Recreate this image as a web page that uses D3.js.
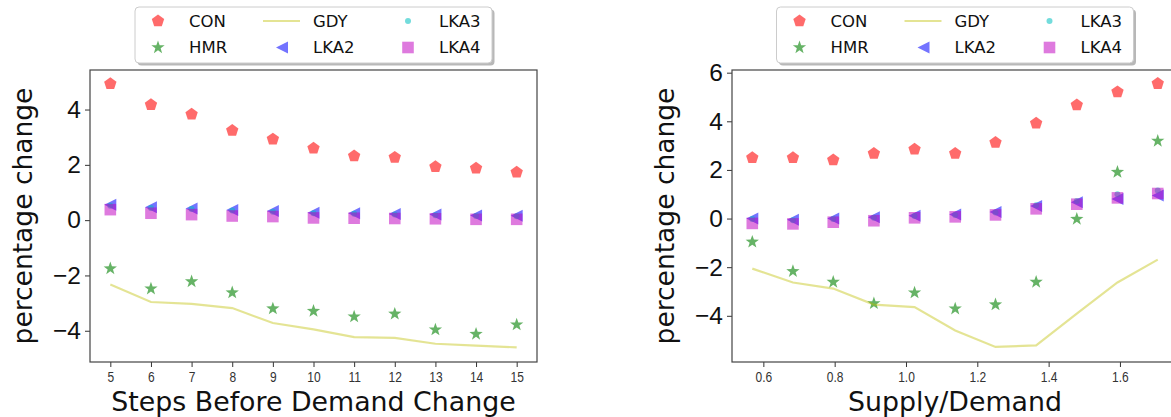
<!DOCTYPE html>
<html>
<head>
<meta charset="utf-8">
<script src="https://cdn.jsdelivr.net/npm/d3@7"></script>
<style>
body { margin: 0; background: #fff; }
svg { display: block; font-family: "DejaVu Sans", sans-serif; }
</style>
</head>
<body>
<svg id="chart" width="1171" height="417"></svg>
<script>
// left panel: steps before demand change
const stepsX = [5, 6, 7, 8, 9, 10, 11, 12, 13, 14, 15];
const stepsCON = [4.93, 4.17, 3.83, 3.24, 2.93, 2.60, 2.32, 2.27, 1.93, 1.88, 1.73];
const stepsHMR = [-1.75, -2.48, -2.22, -2.62, -3.20, -3.29, -3.49, -3.39, -3.96, -4.12, -3.78];
const stepsGDY = [-2.33, -2.96, -3.03, -3.18, -3.72, -3.95, -4.23, -4.26, -4.47, -4.54, -4.60];
const stepsLKA2 = [0.56, 0.47, 0.42, 0.37, 0.33, 0.27, 0.25, 0.22, 0.20, 0.17, 0.16];
const stepsLKA3 = [0.52, 0.44, 0.40, 0.35, 0.30, 0.25, 0.23, 0.20, 0.18, 0.15, 0.14];
const stepsLKA4 = [0.38, 0.25, 0.20, 0.15, 0.13, 0.08, 0.07, 0.06, 0.05, 0.03, 0.03];
const stepsXTicks = [5, 6, 7, 8, 9, 10, 11, 12, 13, 14, 15];
const stepsYTicks = [-4, -2, 0, 2, 4];

// right panel: supply / demand
const ratioX = [0.569, 0.683, 0.796, 0.910, 1.024, 1.138, 1.251, 1.365, 1.479, 1.593, 1.706];
const ratioCON = [2.50, 2.50, 2.41, 2.68, 2.85, 2.68, 3.13, 3.92, 4.67, 5.21, 5.55];
const ratioHMR = [-0.96, -2.17, -2.61, -3.49, -3.05, -3.71, -3.54, -2.61, -0.02, 1.91, 3.19];
const ratioGDY = [-2.06, -2.63, -2.88, -3.54, -3.64, -4.60, -5.28, -5.22, -3.91, -2.63, -1.69];
const ratioLKA2 = [0.00, -0.05, 0.00, 0.05, 0.12, 0.17, 0.27, 0.52, 0.67, 0.80, 0.95];
const ratioLKA3 = [-0.02, -0.07, -0.02, 0.03, 0.10, 0.15, 0.25, 0.55, 0.72, 1.00, 1.15];
const ratioLKA4 = [-0.20, -0.22, -0.15, -0.09, 0.03, 0.07, 0.15, 0.40, 0.59, 0.85, 1.03];
const ratioXTicks = [0.6, 0.8, 1.0, 1.2, 1.4, 1.6];
const ratioYTicks = [-4, -2, 0, 2, 4, 6];

const seriesNames = ["CON", "HMR", "GDY", "LKA2", "LKA3", "LKA4"];

const svg = d3.select('#chart');

// marker shapes (matplotlib-ish)
const polyPath = (pts) => 'M' + pts.map(p => p[0].toFixed(2) + ',' + p[1].toFixed(2)).join('L') + 'Z';
const pentagon = (r) => polyPath(d3.range(5).map(i => {
    const a = -Math.PI / 2 + i * 2 * Math.PI / 5;
    return [r * Math.cos(a), r * Math.sin(a)];
}));
const star = (r) => polyPath(d3.range(10).map(i => {
    const a = -Math.PI / 2 + i * Math.PI / 5;
    const rr = i % 2 ? r * 0.40 : r;
    return [rr * Math.cos(a), rr * Math.sin(a)];
}));
const triLeft = (h) => polyPath([[-h, 0], [h, -h], [h, h]]);
const square = (h) => polyPath([[-h, -h], [h, -h], [h, h], [-h, h]]);
const circle = (r) => `M${r},0A${r},${r} 0 1,1 ${-r},0A${r},${r} 0 1,1 ${r},0Z`;

const styles = {
    CON:  { kind: 'mark', path: pentagon(6.5), color: '#ff0000', alpha: 0.58 },
    HMR:  { kind: 'mark', path: star(7), color: '#008000', alpha: 0.6 },
    GDY:  { kind: 'line', color: '#bfbf00', alpha: 0.42 },
    LKA2: { kind: 'mark', path: triLeft(6), color: '#0000ff', alpha: 0.55 },
    LKA3: { kind: 'mark', path: circle(3), color: '#00bfbf', alpha: 0.55 },
    LKA4: { kind: 'mark', path: square(5.8), color: '#bf00bf', alpha: 0.52 }
};

const drawPanel = (cfg) => {
    const x = d3.scaleLinear().domain(cfg.xDomain).range([cfg.left, cfg.right]);
    const y = d3.scaleLinear().domain(cfg.yDomain).range([cfg.bottom, cfg.top]);
    const g = svg.append('g');

    // data
    cfg.names.forEach((name, k) => {
        const st = styles[name];
        const vals = cfg.values[k];
        const pts = cfg.xs.map((xv, i) => [xv, vals[i]]);
        if (st.kind === 'line') {
            g.append('path')
             .datum(pts)
             .attr('d', d3.line().x(d => x(d[0])).y(d => y(d[1])))
             .attr('fill', 'none')
             .attr('stroke', st.color)
             .attr('stroke-opacity', st.alpha)
             .attr('stroke-width', 2.2);
        } else {
            g.selectAll(null)
             .data(pts)
             .enter()
             .append('path')
             .attr('d', st.path)
             .attr('transform', d => `translate(${x(d[0])},${y(d[1])})`)
             .attr('fill', st.color)
             .attr('fill-opacity', st.alpha);
        }
    });

    // axes
    const xa = g.append('g')
        .attr('transform', `translate(0,${cfg.bottom})`)
        .call(d3.axisBottom(x).tickValues(cfg.xTicks).tickSize(5).tickPadding(4).tickFormat(cfg.xFormat));
    xa.select('.domain').remove();
    xa.selectAll('line').attr('stroke', '#333');
    xa.selectAll('text')
      .attr('fill', '#333')
      .style('font-size', '15px')
      .attr('transform', 'scale(0.8,1)');

    const ya = g.append('g')
        .attr('transform', `translate(${cfg.left},0)`)
        .call(d3.axisLeft(y).tickValues(cfg.yTicks).tickSize(5).tickPadding(4));
    ya.select('.domain').remove();
    ya.selectAll('line').attr('stroke', '#333');
    ya.selectAll('text').attr('fill', '#111').style('font-size', '24.5px');

    // frame
    g.append('rect')
     .attr('x', cfg.left).attr('y', cfg.top)
     .attr('width', cfg.right - cfg.left).attr('height', cfg.bottom - cfg.top)
     .attr('fill', 'none').attr('stroke', '#444').attr('stroke-width', 1.2);

    // labels
    g.append('text')
     .attr('x', (cfg.left + cfg.right) / 2).attr('y', 411)
     .attr('text-anchor', 'middle')
     .style('font-size', '26.8px').attr('fill', '#111')
     .text(cfg.xLabel);
    g.append('text')
     .attr('transform', `translate(${cfg.yLabelX},${(cfg.top + cfg.bottom) / 2}) rotate(-90)`)
     .attr('text-anchor', 'middle')
     .attr('dy', '0.35em')
     .style('font-size', '26.5px').attr('fill', '#111')
     .text('percentage change');

    // legend
    const lw = 357, lh = 56;
    const lx = (cfg.left + Math.min(cfg.right, 1178)) / 2 - lw / 2;
    const lg = svg.append('g').attr('transform', `translate(${lx},7)`);
    lg.append('rect').attr('x', 2.5).attr('y', 2.5).attr('width', lw).attr('height', lh)
      .attr('rx', 4).attr('fill', '#888').attr('fill-opacity', 0.6);
    lg.append('rect').attr('width', lw).attr('height', lh).attr('rx', 4)
      .attr('fill', '#fff').attr('stroke', '#ccc');
    const colX = [23, 147, 273];
    const rowY = [14, 40.5];
    seriesNames.forEach((name, i) => {
        const cx = colX[Math.floor(i / 2)], cy = rowY[i % 2];
        const st = styles[name];
        if (st.kind === 'line') {
            lg.append('line').attr('x1', cx - 19).attr('x2', cx + 18).attr('y1', cy).attr('y2', cy)
              .attr('stroke', st.color).attr('stroke-opacity', st.alpha).attr('stroke-width', 2.2);
        } else {
            lg.append('path').attr('d', st.path).attr('transform', `translate(${cx},${cy})`)
              .attr('fill', st.color).attr('fill-opacity', st.alpha);
        }
        lg.append('text').attr('x', cx + 31).attr('y', cy).attr('dy', '0.36em')
          .style('font-size', '16.5px').attr('fill', '#111').text(name);
    });
};

drawPanel({
    left: 90, right: 537, top: 70, bottom: 362,
    xDomain: [4.5, 15.5], yDomain: [-5.13, 5.43],
    xTicks: stepsXTicks, yTicks: stepsYTicks, xFormat: d3.format('d'),
    xs: stepsX, names: seriesNames,
    values: [stepsCON, stepsHMR, stepsGDY, stepsLKA2, stepsLKA3, stepsLKA4],
    xLabel: 'Steps Before Demand Change', yLabelX: 23
});

drawPanel({
    left: 732, right: 1178, top: 70, bottom: 362,
    xDomain: [0.5121, 1.7628], yDomain: [-5.90, 6.11],
    xTicks: ratioXTicks, yTicks: ratioYTicks, xFormat: d3.format('.1f'),
    xs: ratioX, names: seriesNames,
    values: [ratioCON, ratioHMR, ratioGDY, ratioLKA2, ratioLKA3, ratioLKA4],
    xLabel: 'Supply/Demand', yLabelX: 665
});
</script>
</body>
</html>
